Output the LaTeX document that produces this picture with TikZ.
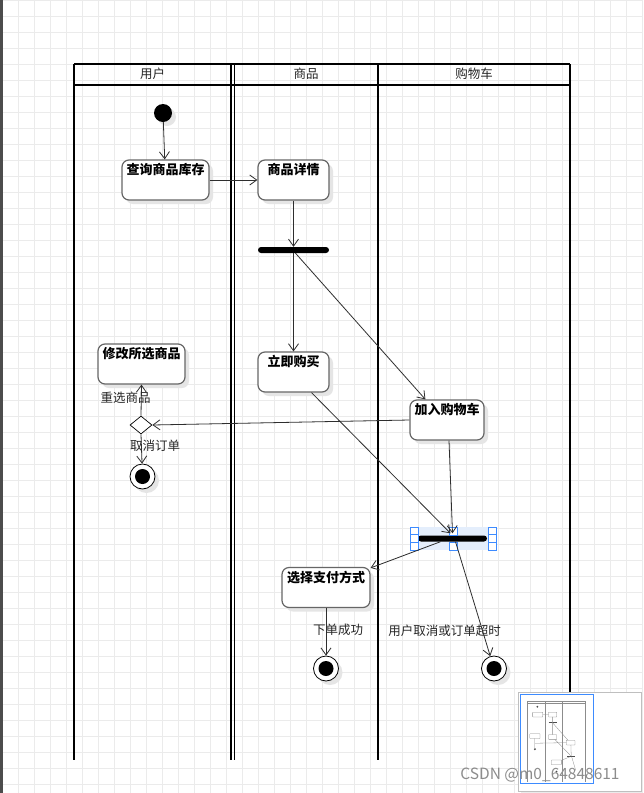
\documentclass[tikz,border=0pt]{standalone}
\usepackage{fontspec}
\newfontfamily\cjk{Noto Sans CJK SC}
\usetikzlibrary{arrows.meta,shapes.geometric,shadows,calc}

\definecolor{gridc}{HTML}{EBEBEB}
\definecolor{boxc}{HTML}{666666}
\definecolor{edgec}{HTML}{2E2E2E}
\definecolor{selc}{HTML}{3D8BFF}
\definecolor{selfill}{HTML}{E4EEFC}

\tikzset{
  shad/.style={drop shadow={shadow xshift=4pt,shadow yshift=-4pt,fill=black!10,opacity=1}},
  act/.style={draw=boxc,line width=1.2pt,fill=white,rounded corners=7pt,shad,
    minimum height=40pt,inner sep=0pt,
    label={[font=\cjk\bfseries\fontsize{13}{15}\selectfont,anchor=north,yshift=-4pt,inner sep=0pt]north:#1}},
  startnode/.style={circle,fill=black,minimum size=18pt,inner sep=0pt,shad},
  endnode/.style={circle,draw=black,line width=0.8pt,fill=white,minimum size=25pt,inner sep=0pt,shad,
    path picture={\fill[black] (path picture bounding box.center) circle (7.5pt);}},
  bar/.style={rectangle,fill=black,rounded corners=3pt,minimum width=71pt,minimum height=6pt,inner sep=0pt},
  decision/.style={diamond,draw=black,line width=0.7pt,fill=white,minimum width=22pt,minimum height=18pt,inner sep=0pt},
  flow/.style={draw=edgec,line width=0.8pt,-{Straight Barb[length=7pt,width=10pt,line width=0.8pt]}},
  lane/.style={line width=2pt,black},
  head/.style={font=\cjk\fontsize{12.5}{14}\selectfont,text=black!85},
  elabel/.style={font=\cjk\fontsize{12.5}{14}\selectfont,text=black!85,inner sep=0pt},
  handle/.style={draw=selc,fill=white,line width=0.8pt,minimum size=8pt,inner sep=0pt,rectangle},
}

\begin{document}
\begin{tikzpicture}[x=1pt,y=-1pt]
  % canvas and grid
  \fill[white] (0,0) rectangle (643,793);
  \useasboundingbox (0,0) rectangle (643,793);
  \foreach \gx in {2.7,18.7,...,643} \draw[gridc,line width=0.8pt] (\gx,0) -- (\gx,793);
  \foreach \gy in {0,16,...,793} \draw[gridc,line width=0.8pt] (0,\gy) -- (643,\gy);
  \fill[black!70] (0,0) rectangle (2.5,793);

  % swimlanes
  \draw[lane] (74,64) -- (570,64);
  \draw[lane] (74,85) -- (570,85);
  \draw[lane] (74,64) -- (74,760);
  \draw[lane] (231,64) -- (231,760);
  \draw[line width=1.6pt] (234.5,64) -- (234.5,760);
  \draw[lane] (378,64) -- (378,760);
  \draw[lane] (570,64) -- (570,760);
  \node[head] (hUser) at (152.5,73.5) {用户};
  \node[head] (hGoods) at (306,73.5) {商品};
  \node[head] (hCart) at (474,73.5) {购物车};

  % activities
  \node[startnode] (init) at (163,113) {};
  \node[act=查询商品库存, minimum width=87pt] (query) at (165.5,180) {};
  \node[act=商品详情, minimum width=71pt] (detail) at (293.5,180) {};
  \node[bar] (fork) at (293.5,250) {};
  \node[act=立即购买, minimum width=71pt] (buy) at (293.5,372) {};
  \node[act=修改所选商品, minimum width=87pt] (modify) at (141.5,364) {};
  \node[act=加入购物车, minimum width=74pt] (cart) at (447,420) {};
  \node[decision] (dec) at (141,425) {};
  \node[endnode] (fin1) at (142.5,476.5) {};

  % join bar with selection handles
  \fill[selfill] (418,527) rectangle (488,550);
  \node[bar, minimum width=69pt] (join) at (452.5,538.5) {};
  \foreach \hx/\hy [count=\i] in {414/531,414/538.5,414/546,453.5/531,453.5/546,492.5/531,492.5/538.5,492.5/546}
    \node[handle] (h\i) at (\hx,\hy) {};

  \node[act=选择支付方式, minimum width=88pt] (pay) at (326,587.5) {};
  \node[endnode] (fin2) at (326,668.5) {};
  \node[endnode] (fin3) at (494,668.5) {};

  % control flow
  \draw[flow] (init) -- (query);
  \draw[flow] (query) -- (detail);
  \draw[flow] (detail) -- (fork);
  \draw[flow] (fork) -- (buy);
  \draw[flow] ($(fork.south)+(2,0)$) -- ($(cart.north west)+(16,0)$);
  \draw[flow] ($(buy.south)+(18,0)$) -- ($(join.north)+(-2,-2)$);
  \draw[flow] ($(cart.south)+(2,0)$) -- ($(join.north)+(0,-2)$);
  \draw[flow] (cart.west) -- (dec.east);
  \draw[flow] (dec.north) -- (modify.south);
  \draw[flow] (dec.south) -- (fin1);
  \draw[flow] ($(join.south)+(-12,0)$) -- ($(pay.north east)+(0,1)$);
  \draw[flow] (pay) -- (fin2);
  \draw[flow] ($(join.south)+(3,0)$) -- (fin3);

  % guard labels
  \node[elabel] (lReselect) at (125.5,398) {重选商品};
  \node[elabel] (lCancel) at (155,446) {取消订单};
  \node[elabel] (lSuccess) at (338,630) {下单成功};
  \node[elabel] (lTimeout) at (444.5,631) {用户取消或订单超时};

  % overview panel
  \fill[black!8] (521,695) rectangle (643,793);
  \fill[white,draw=black!25,line width=0.6pt] (518.5,692) rectangle (641,791);
  \begin{scope}[shift={(527,701)},scale=0.117,shift={(-74,-64)},black!45,line width=0.3pt]
    \draw (74,64) -- (570,64) (74,85) -- (570,85);
    \draw (74,64) -- (74,760) (232,64) -- (232,760) (378,64) -- (378,760) (570,64) -- (570,760);
    \draw[rounded corners=0.4pt] (122,160) rectangle (209,200) (258,160) rectangle (329,200)
      (258,352) rectangle (329,392) (98,344) rectangle (185,384) (410,400) rectangle (484,440)
      (282,568) rectangle (370,607);
    \draw[line width=0.8pt,black!70] (258,250) -- (329,250) (418,538) -- (487,538);
    \fill[black!70] (163,113) circle (9) (142,476) circle (9) (326,668) circle (9);
    \draw (209,180) -- (258,180) (293,200) -- (293,352) (295,253) -- (425,400) (312,392) -- (451,535)
      (449,440) -- (452,535) (410,420) -- (141,425) (141,384) -- (141,470) (441,541) -- (370,570)
      (456,541) -- (490,656);
  \end{scope}
  \draw[selc,line width=0.9pt] (520,694) rectangle (593,783);
  \node[font=\cjk\fontsize{15.5}{17}\selectfont,text=black!45,inner sep=0pt] (mark) at (540,775) {CSDN @m0\_64848611};
\end{tikzpicture}
\end{document}
